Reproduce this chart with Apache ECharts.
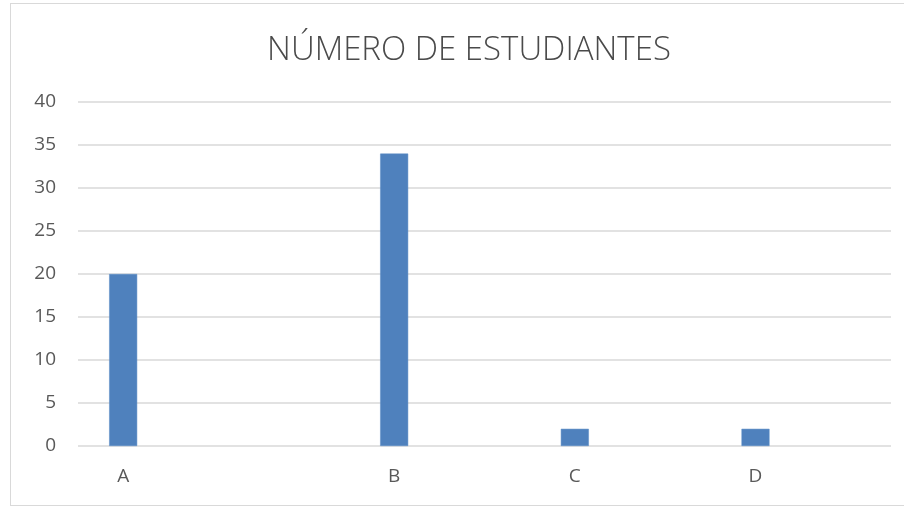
<!DOCTYPE html>
<html>
<head>
<meta charset="utf-8">
<script src="https://cdn.jsdelivr.net/npm/echarts@6/dist/echarts.min.js"></script>
<style>
  html, body { margin: 0; padding: 0; background: #fff; }
  #frame { position: absolute; left: 10px; top: 3px; width: 900px; height: 503px; border: 1px solid #d9d9d9; box-sizing: border-box; }
  #chart { position: absolute; left: 0; top: 0; width: 904px; height: 508px; }
</style>
</head>
<body>
<div id="frame"></div>
<div id="chart"></div>
<script>
// the source sheet has empty columns between the groups, so blank categories keep the spacing
const categories = ['A', '', '', 'B', '', 'C', '', 'D', ''];
const students = [20, null, null, 34, null, 2, null, 2, null];
const yTicks = { min: 0, max: 40, interval: 5 };

const textColor = '#595959';
const fontFamily = '"Open Sans", "Liberation Sans", sans-serif';

const chart = echarts.init(document.getElementById('chart'));

chart.setOption({
  animation: false,
  title: {
    text: 'NÚMERO DE ESTUDIANTES',
    left: 464,
    textAlign: 'center',
    top: 29,
    textStyle: { fontSize: 33, fontWeight: 300, color: '#4a4a4a', fontFamily: fontFamily },
  },
  grid: { left: 78, right: 13, top: 102, bottom: 62 },
  xAxis: {
    type: 'category',
    data: categories,
    axisLine: { show: false },
    axisTick: { show: false },
    axisLabel: { color: textColor, fontSize: 19, fontFamily: fontFamily, margin: 21, interval: 0 },
  },
  yAxis: {
    type: 'value',
    min: yTicks.min,
    max: yTicks.max,
    interval: yTicks.interval,
    axisLine: { show: false },
    axisTick: { show: false },
    axisLabel: { color: textColor, fontSize: 19, fontFamily: fontFamily, margin: 22 },
    splitLine: { lineStyle: { color: '#d9d9d9', width: 1.5 } },
  },
  series: [
    {
      type: 'bar',
      data: students,
      barWidth: 28,
      itemStyle: { color: '#4f81bd', borderColor: '#5b8cc6', borderWidth: 0.5 },
    },
  ],
});
</script>
</body>
</html>
